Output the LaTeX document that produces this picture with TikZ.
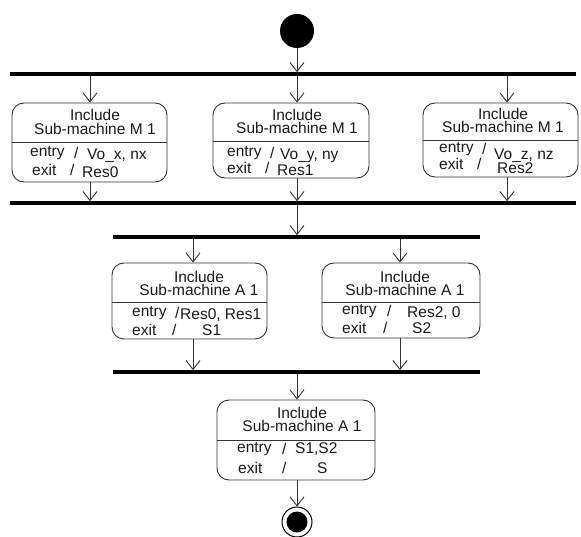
\documentclass[tikz,border=0pt]{standalone}
\usepackage{fontspec}
\setmainfont{Liberation Sans}
\usetikzlibrary{arrows.meta}
\newcommand\cmpline[8]{%
  \node[txt,anchor=west] (#1k) at (#4,#3) {#2};
  \node[txt,anchor=west] (#1s) at (#5,#3) {/};
  \node[txt,anchor=west] (#1v) at (#6,#8) {#7};}
\begin{document}
\begin{tikzpicture}[x=1pt,y=-1pt,
  txt/.style={inner sep=0pt,text=black!90,font=\fontsize{15.5}{15}\selectfont},
  ttl/.style={inner sep=0pt,text=black!90,align=center,font=\fontsize{15.5}{13.8}\selectfont},
  statebox/.style={draw=black!80,line width=0.9pt,rounded corners=12pt,inner sep=0pt},
  bar/.style={fill=black,inner sep=0pt,minimum height=3.2pt},
  arr/.style={draw=black!80,line width=0.9pt,-{Straight Barb[length=9pt,width=14pt,line width=0.9pt]}},
  ln/.style={draw=black!80,line width=0.9pt}]
\useasboundingbox (0,0) rectangle (581,537);
% start
\node[circle,fill=black,minimum size=34pt,inner sep=0pt] (start) at (297,31) {};
% bars
\node[bar,minimum width=566pt] (bar1) at (293,74) {};
\node[bar,minimum width=566pt] (bar2) at (293,203) {};
\node[bar,minimum width=367pt] (bar3) at (296.5,237) {};
\node[bar,minimum width=367pt] (bar4) at (296.5,372) {};
% boxes
\node[statebox,minimum width=155pt,minimum height=79pt] (b1) at (89.5,142.5) {};
\node[statebox,minimum width=156pt,minimum height=75pt] (b2) at (291,140.5) {};
\node[statebox,minimum width=155pt,minimum height=74pt] (b3) at (500.5,140) {};
\node[statebox,minimum width=155pt,minimum height=76pt] (b4) at (189.5,301) {};
\node[statebox,minimum width=158pt,minimum height=75pt] (b5) at (401,300.5) {};
\node[statebox,minimum width=158pt,minimum height=80pt] (b6) at (296,440) {};
% dividers
\draw[ln] (b1.west |- 0,142) -- (b1.east |- 0,142);
\draw[ln] (b2.west |- 0,141) -- (b2.east |- 0,141);
\draw[ln] (b3.west |- 0,140) -- (b3.east |- 0,140);
\draw[ln] (b4.west |- 0,302) -- (b4.east |- 0,302);
\draw[ln] (b5.west |- 0,302) -- (b5.east |- 0,302);
\draw[ln] (b6.west |- 0,440) -- (b6.east |- 0,440);
% titles
\node[ttl] (b1t) at (95,122) {Include\\Sub-machine M\hspace{4.5pt}1};
\node[ttl] (b2t) at (297,121.5) {Include\\Sub-machine M\hspace{4.5pt}1};
\node[ttl] (b3t) at (503,120.5) {Include\\Sub-machine M\hspace{4.5pt}1};
\node[ttl] (b4t) at (199,283.5) {Include\\Sub-machine A\hspace{4.5pt}1};
\node[ttl] (b5t) at (405,283.5) {Include\\Sub-machine A\hspace{4.5pt}1};
\node[ttl] (b6t) at (302,419.5) {Include\\Sub-machine A\hspace{4.5pt}1};
% compartments
\cmpline{b1en}{entry}{153}{30}{74}{87}{Vo\_x, nx}{156}
\cmpline{b1ex}{exit}{170}{32}{70}{82}{Res0}{172}
\cmpline{b2en}{entry}{153}{227}{270}{280}{Vo\_y, ny}{156}
\cmpline{b2ex}{exit}{168}{227}{265}{277}{Res1}{170}
\cmpline{b3en}{entry}{149}{439}{482}{494}{Vo\_z, nz}{156}
\cmpline{b3ex}{exit}{164}{439}{477}{497}{Res2}{168}
\cmpline{b4en}{entry}{313}{132}{175}{180}{Res0, Res1}{315}
\cmpline{b4ex}{exit}{330}{132}{172}{202}{S1}{330}
\cmpline{b5en}{entry}{311}{342}{387}{407}{Res2, 0}{313}
\cmpline{b5ex}{exit}{328}{342}{383}{412}{S2}{328}
\cmpline{b6en}{entry}{449}{237}{282}{295}{S1,S2}{449}
\cmpline{b6ex}{exit}{468}{238}{282}{317}{S}{468}
% end
\node[circle,draw=black,line width=1pt,minimum size=30pt,inner sep=0pt] (endo) at (297,522) {};
\node[circle,fill=black,minimum size=21pt,inner sep=0pt] (endi) at (endo) {};
% connector columns
\coordinate (xa) at (90,0);
\coordinate (xb) at (297,0);
\coordinate (xc) at (507,0);
\coordinate (xd) at (193,0);
\coordinate (xe) at (400,0);
% arrows
\draw[arr] (start.south) -- (xb |- bar1.north);
\draw[arr] (xa |- bar1.south) -- (xa |- b1.north);
\draw[arr] (xb |- bar1.south) -- (xb |- b2.north);
\draw[arr] (xc |- bar1.south) -- (xc |- b3.north);
\draw[arr] (xa |- b1.south) -- (xa |- bar2.north);
\draw[arr] (xb |- b2.south) -- (xb |- bar2.north);
\draw[arr] (xc |- b3.south) -- (xc |- bar2.north);
\draw[arr] (xb |- bar2.south) -- (xb |- bar3.north);
\draw[arr] (xd |- bar3.south) -- (xd |- b4.north);
\draw[arr] (xe |- bar3.south) -- (xe |- b5.north);
\draw[arr] (xd |- b4.south) -- (xd |- bar4.north);
\draw[arr] (xe |- b5.south) -- (xe |- bar4.north);
\draw[arr] (xb |- bar4.south) -- (xb |- b6.north);
\draw[arr] (xb |- b6.south) -- (endo.north);
\end{tikzpicture}
\end{document}
